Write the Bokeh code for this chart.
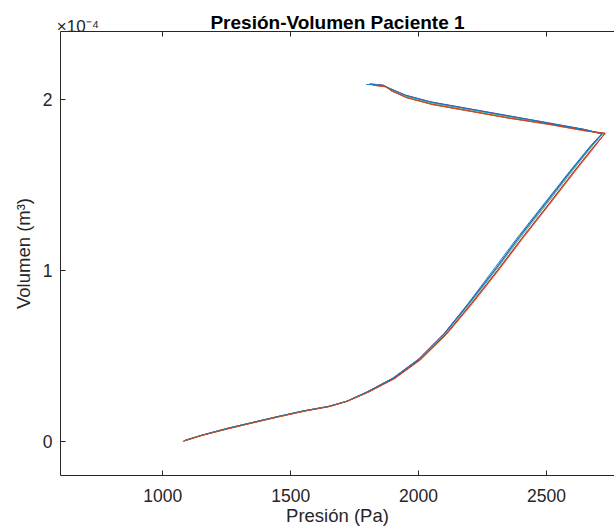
from bokeh.plotting import figure
from bokeh.models import Range1d, FixedTicker, LinearAxis, CustomJSTickFormatter
from bokeh.embed import file_html
from bokeh.resources import INLINE

# Pressure (Pa) and volume (x 1e-4 m^3) for each breathing cycle
p_c1 = [1085, 1150, 1250, 1350, 1450, 1550, 1650, 1720, 1800, 1900, 2000, 2100, 2195, 2290, 2390, 2490, 2590, 2672, 2715, 2650, 2500, 2350, 2200, 2050, 1950, 1890, 1860, 1795]
v_c1 = [0.005, 0.035, 0.075, 0.11, 0.145, 0.178, 0.205, 0.235, 0.29, 0.37, 0.48, 0.63, 0.81, 1.00, 1.20, 1.39, 1.58, 1.73, 1.80, 1.825, 1.865, 1.905, 1.945, 1.985, 2.025, 2.065, 2.085, 2.09]
p_c2 = [1080, 1148, 1252, 1352, 1452, 1552, 1652, 1722, 1805, 1905, 2006, 2108, 2208, 2308, 2410, 2510, 2608, 2688, 2728, 2655, 2505, 2352, 2202, 2052, 1952, 1892, 1872, 1820]
v_c2 = [0.0, 0.033, 0.073, 0.109, 0.144, 0.177, 0.205, 0.236, 0.29, 0.368, 0.478, 0.628, 0.808, 0.998, 1.198, 1.388, 1.578, 1.728, 1.80, 1.82, 1.86, 1.895, 1.935, 1.975, 2.015, 2.055, 2.078, 2.088]
p_c3 = [1090, 1152, 1251, 1351, 1451, 1551, 1651, 1721, 1802, 1902, 2003, 2104, 2203, 2302, 2402, 2502, 2600, 2680, 2722, 2652, 2502, 2351, 2201, 2051, 1951, 1891, 1866, 1815]
v_c3 = [0.008, 0.036, 0.076, 0.111, 0.146, 0.178, 0.206, 0.236, 0.291, 0.371, 0.482, 0.632, 0.812, 1.002, 1.202, 1.392, 1.582, 1.732, 1.802, 1.823, 1.862, 1.90, 1.94, 1.98, 2.02, 2.06, 2.082, 2.092]
p_c4 = [1088, 1151, 1250, 1349, 1449, 1549, 1649, 1719, 1799, 1899, 1999, 2099, 2198, 2297, 2396, 2496, 2595, 2676, 2718, 2648, 2498, 2348, 2198, 2048, 1948, 1888, 1862, 1810]
v_c4 = [0.006, 0.035, 0.075, 0.11, 0.145, 0.178, 0.205, 0.235, 0.29, 0.37, 0.481, 0.631, 0.811, 1.001, 1.201, 1.391, 1.581, 1.731, 1.801, 1.827, 1.868, 1.908, 1.948, 1.988, 2.028, 2.066, 2.086, 2.094]
p_c5 = [1084, 1149, 1249, 1350, 1450, 1550, 1650, 1721, 1801, 1901, 2001, 2102, 2201, 2300, 2400, 2500, 2598, 2679, 2720, 2651, 2501, 2351, 2201, 2051, 1951, 1890, 1868, 1818]
v_c5 = [0.004, 0.034, 0.074, 0.11, 0.145, 0.178, 0.205, 0.236, 0.29, 0.369, 0.479, 0.629, 0.809, 0.999, 1.199, 1.389, 1.579, 1.729, 1.80, 1.822, 1.863, 1.902, 1.942, 1.982, 2.022, 2.062, 2.08, 2.09]
p_c6 = [1087, 1150, 1250, 1350, 1450, 1550, 1650, 1720, 1800, 1900, 2002, 2103, 2202, 2301, 2401, 2501, 2599, 2678, 2719, 2650, 2500, 2350, 2200, 2050, 1950, 1889, 1864, 1812]
v_c6 = [0.006, 0.035, 0.075, 0.11, 0.145, 0.178, 0.205, 0.235, 0.29, 0.37, 0.48, 0.63, 0.81, 1.00, 1.20, 1.39, 1.58, 1.73, 1.80, 1.824, 1.864, 1.903, 1.943, 1.983, 2.023, 2.063, 2.083, 2.091]
p_c7 = [1082, 1149, 1251, 1352, 1452, 1552, 1652, 1722, 1804, 1904, 2005, 2107, 2207, 2307, 2408, 2508, 2606, 2686, 2730, 2656, 2506, 2353, 2203, 2053, 1953, 1893, 1873, 1822]
v_c7 = [0.002, 0.033, 0.073, 0.109, 0.144, 0.177, 0.204, 0.235, 0.289, 0.368, 0.478, 0.628, 0.808, 0.998, 1.198, 1.388, 1.578, 1.728, 1.805, 1.818, 1.858, 1.893, 1.933, 1.973, 2.013, 2.053, 2.076, 2.086]
p_c8 = [1086, 1150, 1250, 1350, 1450, 1550, 1650, 1720, 1800, 1900, 2001, 2101, 2198, 2296, 2395, 2494, 2593, 2675, 2717, 2649, 2499, 2349, 2199, 2049, 1949, 1889, 1863, 1808]
v_c8 = [0.005, 0.035, 0.075, 0.11, 0.145, 0.178, 0.205, 0.235, 0.29, 0.37, 0.48, 0.63, 0.81, 1.00, 1.20, 1.39, 1.58, 1.73, 1.80, 1.826, 1.866, 1.906, 1.946, 1.986, 2.026, 2.064, 2.084, 2.092]
p_c9 = [1078, 1146, 1252, 1353, 1453, 1553, 1653, 1723, 1806, 1907, 2008, 2110, 2211, 2311, 2412, 2512, 2610, 2690, 2728, 2656, 2506, 2354, 2204, 2054, 1954, 1894, 1874, 1824]
v_c9 = [0.0, 0.032, 0.072, 0.108, 0.143, 0.176, 0.204, 0.235, 0.289, 0.367, 0.477, 0.627, 0.807, 0.997, 1.197, 1.387, 1.577, 1.727, 1.803, 1.816, 1.856, 1.892, 1.932, 1.972, 2.012, 2.052, 2.075, 2.085]

pressures = [p_c1, p_c2, p_c3, p_c4, p_c5, p_c6, p_c7, p_c8, p_c9]
volumes = [v_c1, v_c2, v_c3, v_c4, v_c5, v_c6, v_c7, v_c8, v_c9]
colors = ["#0072BD", "#D95319", "#EDB120", "#7E2F8E", "#77AC30", "#4DBEEE", "#A2142F", "#0072BD", "#D95319"]

x_ticks = [1000, 1500, 2000, 2500]
y_ticks = [0, 1, 2]
exp_tick = [668]
exp_text = "×10⁻⁴"
title_text = "Presión-Volumen Paciente 1"

FONT = "Liberation Sans"
TXT = "#262626"

p = figure(width=614, height=530, output_backend="svg", toolbar_location=None,
           x_range=Range1d(600, 2766), y_range=Range1d(-0.2, 2.4),
           min_border_left=60, min_border_right=0, min_border_top=31, min_border_bottom=55)
p.title = None
p.outline_line_color = None
p.xgrid.visible = False
p.ygrid.visible = False
p.background_fill_color = "white"
p.border_fill_color = "white"

def style_axis(ax):
    ax.axis_line_color = TXT
    ax.axis_line_width = 1
    ax.major_tick_line_color = TXT
    ax.major_tick_in = 5
    ax.major_tick_out = 0
    ax.minor_tick_line_color = None
    ax.major_label_text_font = FONT
    ax.major_label_text_font_size = "17.5px"
    ax.major_label_text_color = TXT
    ax.axis_label_text_font = FONT
    ax.axis_label_text_font_size = "18.5px"
    ax.axis_label_text_font_style = "normal"
    ax.axis_label_text_color = TXT

xa = p.xaxis[0]
style_axis(xa)
xa.ticker = FixedTicker(ticks=x_ticks)
xa.major_label_standoff = 13
xa.axis_label = "Presión (Pa)"
xa.axis_label_standoff = 0

ya = p.yaxis[0]
style_axis(ya)
ya.ticker = FixedTicker(ticks=y_ticks)
ya.major_label_standoff = 8
ya.axis_label = "Volumen (m³)"
ya.axis_label_standoff = 6

# top box edge with mirrored ticks
top = LinearAxis(ticker=FixedTicker(ticks=x_ticks))
style_axis(top)
top.major_label_text_font_size = "1px"
top.major_label_text_color = None
top.major_label_standoff = 0
p.add_layout(top, "above")

# exponent marker and title row
lab = LinearAxis(ticker=FixedTicker(ticks=exp_tick),
                 formatter=CustomJSTickFormatter(code="return '%s';" % exp_text),
                 major_label_text_font_size="17px",
                 major_label_text_font=FONT,
                 major_label_text_color=TXT)
lab.axis_line_color = None
lab.major_tick_line_color = None
lab.major_tick_in = 0
lab.major_tick_out = 0
lab.minor_tick_line_color = None
lab.major_label_standoff = -4
lab.axis_label = title_text
lab.axis_label_text_font = FONT
lab.axis_label_text_font_size = "19px"
lab.axis_label_text_font_style = "bold"
lab.axis_label_text_color = "black"
lab.axis_label_standoff = -19
p.add_layout(lab, "above")

for px, vy, c in zip(pressures, volumes, colors):
    p.line(px, vy, line_color=c, line_width=0.9)

open("out.html", "w").write(file_html(p, INLINE))
